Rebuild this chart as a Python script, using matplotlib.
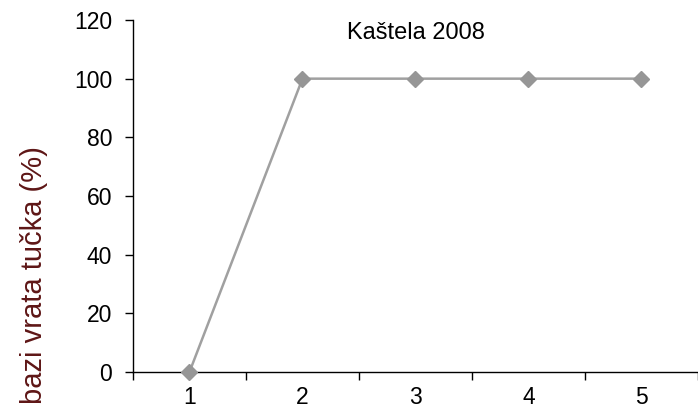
import matplotlib
matplotlib.use("Agg")
import matplotlib.pyplot as plt

plt.rcParams['font.family'] = ['Liberation Sans', 'DejaVu Sans']

categories = [1, 2, 3, 4, 5]
values = [0, 100, 100, 100, 100]
y_ticks = [0, 20, 40, 60, 80, 100, 120]

fig = plt.figure(figsize=(6.98, 4.13), dpi=100)
ax = fig.add_axes([0.1905, 0.0993, 0.8095, 0.8523])

ax.plot(categories, values, color='#a0a0a0', lw=1.8, marker='D',
        markersize=8, markerfacecolor='#969696', markeredgecolor='#969696',
        clip_on=False, zorder=3)

ax.set_xlim(0.5, 5.5)
ax.set_ylim(0, 120)
ax.set_yticks(y_ticks)
ax.set_xticks([c - 0.5 for c in categories] + [5.5])
ax.set_xticklabels([])
ax.set_xticks(categories, minor=True)
ax.set_xticklabels([str(c) for c in categories], minor=True)
ax.tick_params(axis='x', which='minor', length=0, pad=10, labelsize=16.5)
ax.tick_params(axis='x', which='major', length=6, direction='out', width=1)
ax.tick_params(axis='y', length=6, direction='out', width=1, labelsize=16.5, pad=9)

for s in ['top', 'right']:
    ax.spines[s].set_visible(False)
for s in ['left', 'bottom']:
    ax.spines[s].set_linewidth(1)

ax.text(3, 115.5, 'Kaštela 2008', ha='center', va='center', fontsize=17)
ax.set_ylabel('bazi vrata tučka (%)', fontsize=21, color='#5e1616')
ax.yaxis.set_label_coords(-0.150, 0.276)

plt.savefig('out.png', dpi=100)
